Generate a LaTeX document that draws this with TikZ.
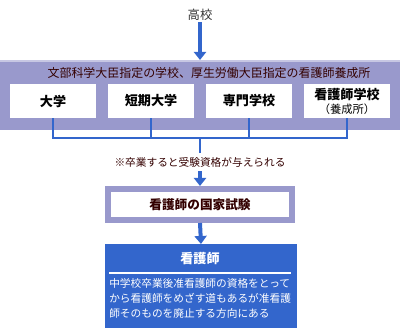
\documentclass[tikz,border=0pt]{standalone}
\usepackage{fontspec}
\setmainfont{Noto Sans CJK JP}
\usetikzlibrary{arrows.meta,positioning}
\definecolor{bandpurple}{HTML}{9999CC}
\definecolor{flowblue}{HTML}{3366CC}
\definecolor{darktext}{HTML}{330000}

\begin{document}
\begin{tikzpicture}[x=0.025cm, y=-0.025cm,
    school/.style={fill=white, minimum width=2.15cm, minimum height=0.85cm, inner sep=0pt, align=center, font=\fontsize{9.3pt}{11pt}\selectfont\bfseries},
    link/.style={draw=flowblue, line width=0.05cm},
    flow/.style={draw=flowblue, line width=0.1cm, -{Triangle[width=0.3cm,length=0.2cm]}},
    smalltext/.style={font=\fontsize{7.6pt}{10.7pt}\selectfont, inner sep=0pt}]
    \useasboundingbox (0,0) rectangle (400,328);

    \node[font=\fontsize{8.8pt}{10pt}\selectfont, text=black!80, inner sep=1pt] (hs) at (200,15) {高校};

    % purple band with the schools
    \node[fill=bandpurple, minimum width=10cm, minimum height=1.75cm, inner sep=0pt, outer sep=0pt] (band) at (200,95) {};
    \draw[bandpurple!55!white, line width=0.05cm] (band.north west) ++(0,1) -- ++(400,0);
    \node[font=\fontsize{8.5pt}{10pt}\selectfont, text=darktext, inner sep=0pt] (bandtitle) at (209,73) {文部科学大臣指定の学校、厚生労働大臣指定の看護師養成所};

    \node[school] (univ) at (53,101) {大学};
    \node[school] (junior) at (151,101) {短期大学};
    \node[school] (college) at (249,101) {専門学校};
    \node[school] (nschool) at (347,101) {看護師学校\\[-1pt]{\fontsize{8pt}{9pt}\selectfont\mdseries （養成所）}};

    \draw[flow] (hs) -- (band.north);

    % connectors to the exam
    \coordinate (hub) at (200,138);
    \draw[link] (univ.south) |- (hub);
    \draw[link] (junior.south) |- (hub);
    \draw[link] (college.south) |- (hub);
    \draw[link] (nschool.south) |- (hub);

    \node[smalltext, text=darktext, inner ysep=0.1cm] (note) at (200,162) {※卒業すると受験資格が与えられる};
    \draw[link] (hub) -- (note.north);

    \node[draw=bandpurple, line width=0.15cm, fill=white, minimum width=4.6cm, minimum height=0.775cm, font=\fontsize{9pt}{11pt}\selectfont\bfseries, text=darktext] (exam) at (200,204.5) {看護師の国家試験};
    \draw[flow] (note.south) -- (exam.north);

    % result box
    \node[fill=flowblue, minimum width=4.8cm, minimum height=2.1cm, inner sep=0pt, outer sep=0pt] (nurse) at (201,286) {};
    \draw[flow] (exam.south) -- (nurse.north);
    \node[font=\fontsize{9.3pt}{11pt}\selectfont\bfseries, text=white, inner sep=0pt] (nursetitle) at (200,259) {看護師};
    \draw[white, line width=0.04cm] (109,273) -- (291,273);
    \node[smalltext, text=white, align=left, anchor=north west] (nursenote) at (109,278.5) {中学校卒業後准看護師の資格をとって\\から看護師をめざす道もあるが准看護\\師そのものを廃止する方向にある};
\end{tikzpicture}
\end{document}
